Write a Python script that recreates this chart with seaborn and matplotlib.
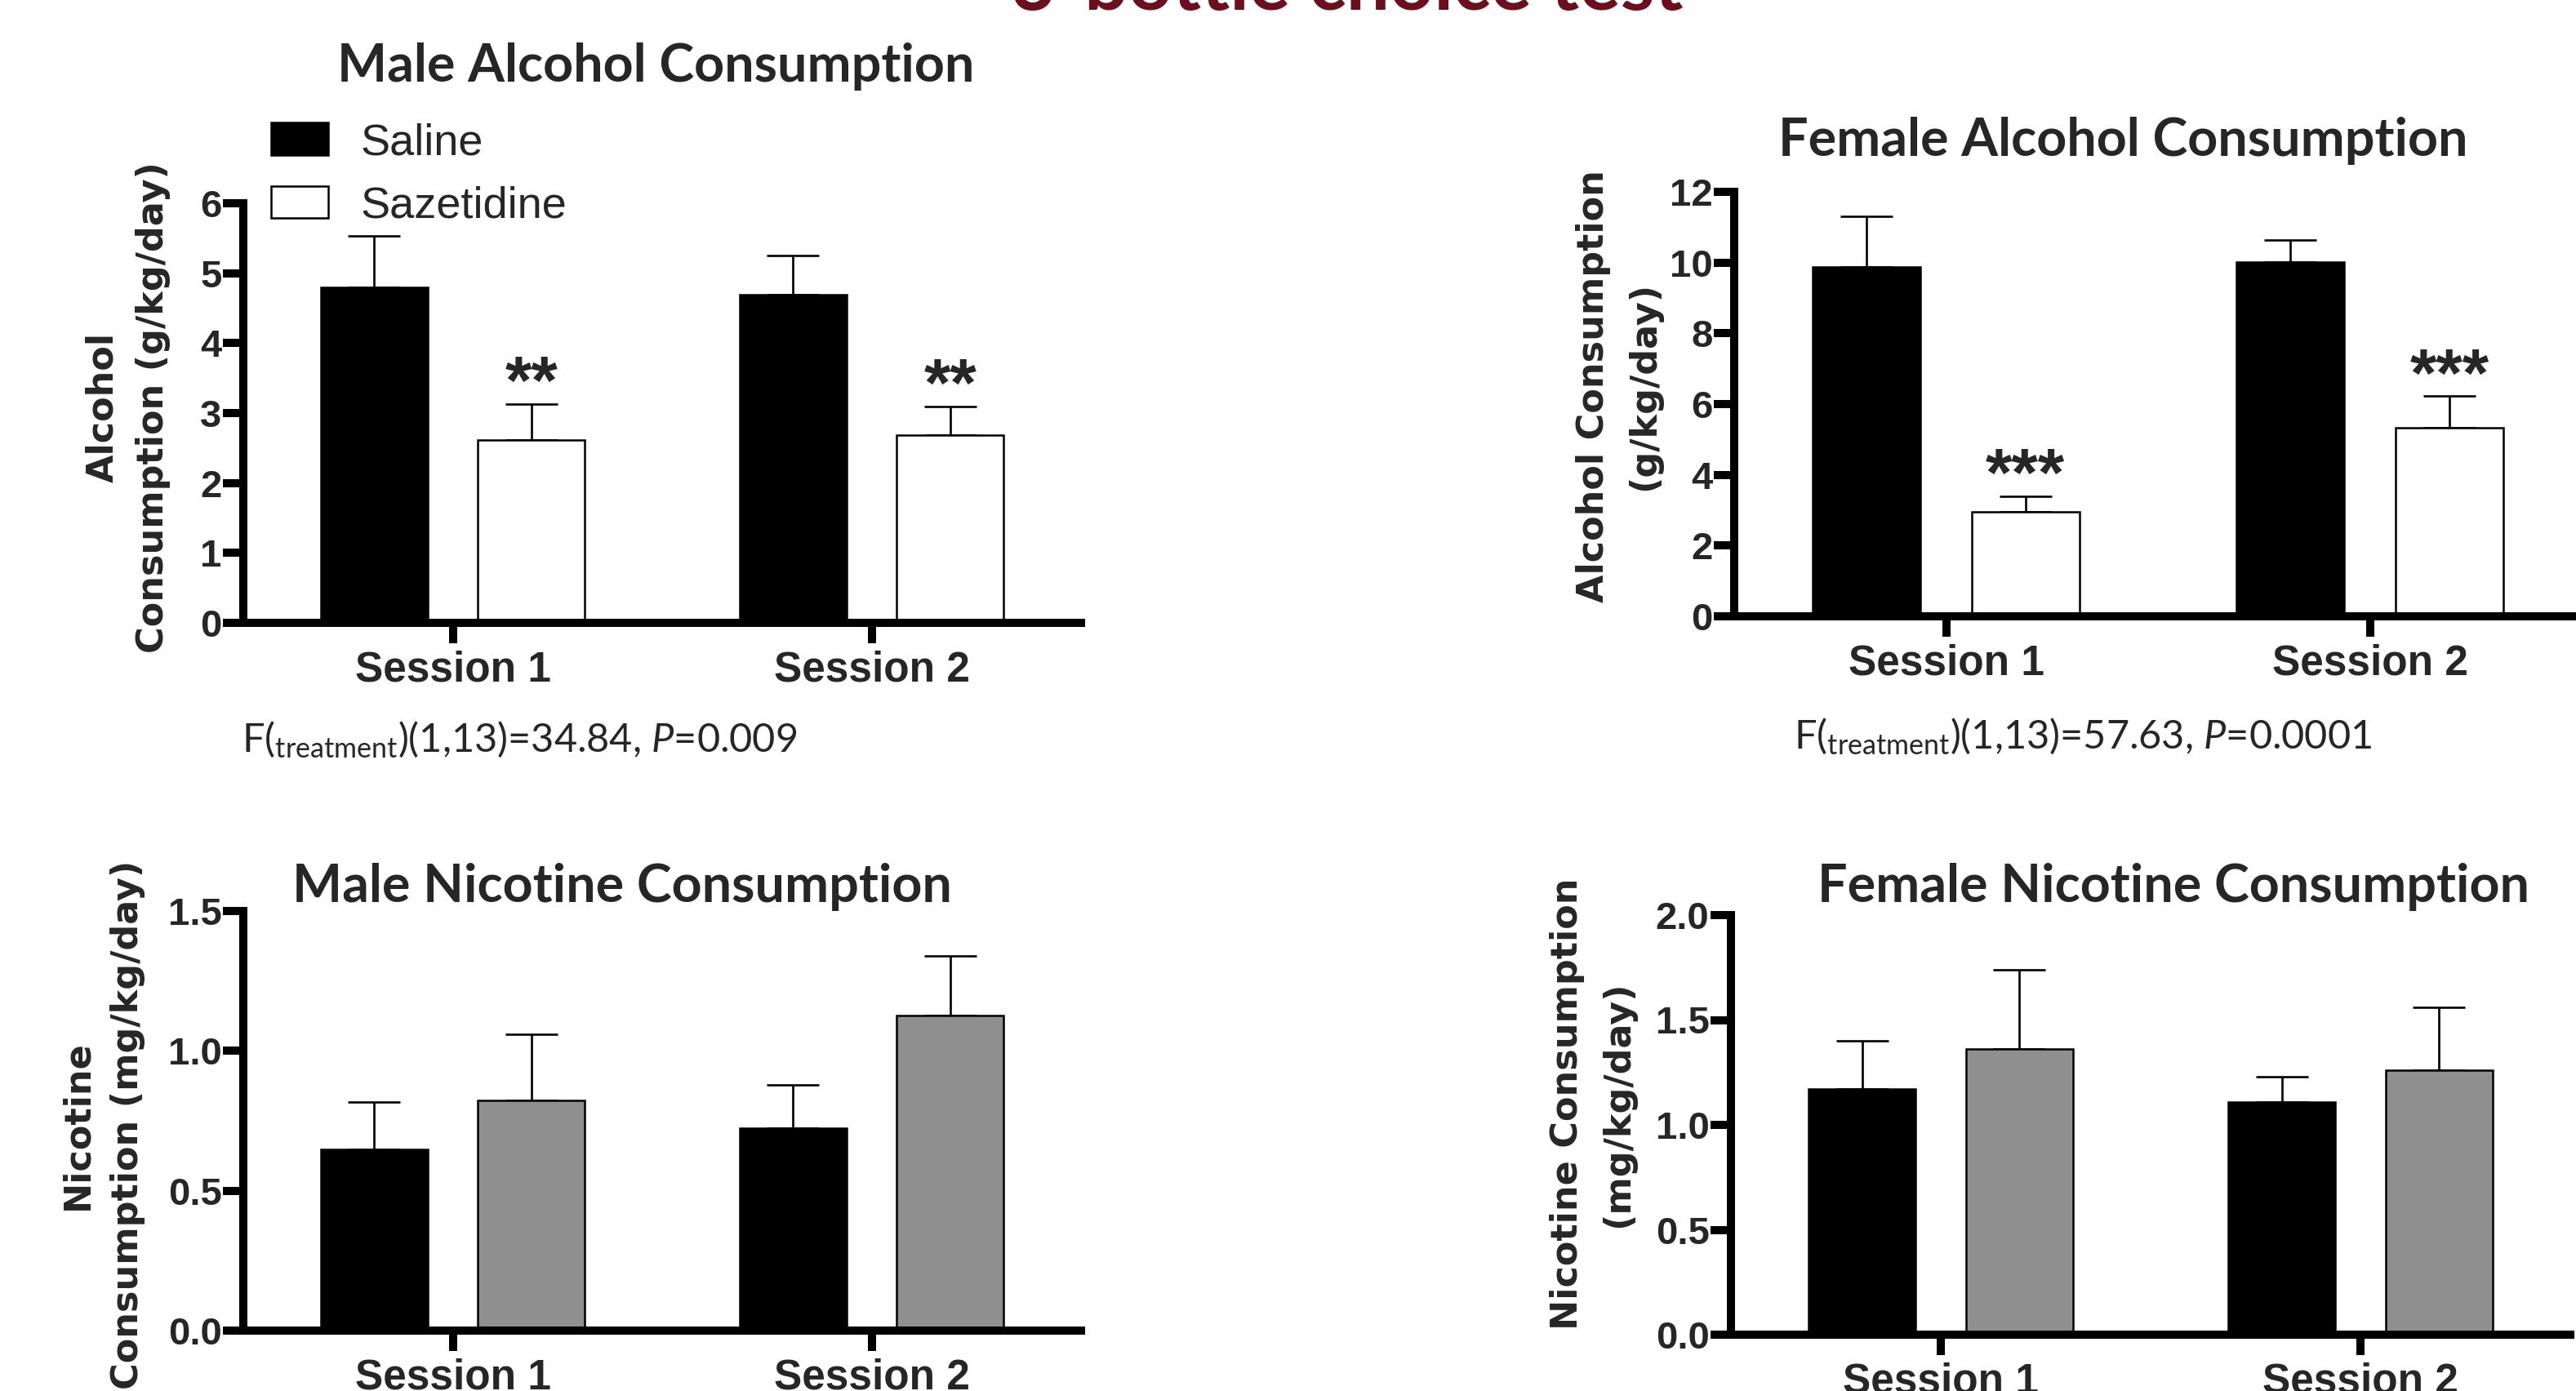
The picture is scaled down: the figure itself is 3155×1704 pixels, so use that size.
import numpy as np
import pandas as pd
import matplotlib
matplotlib.use("Agg")
import matplotlib.pyplot as plt
import seaborn as sns

# ---------------- data ----------------
sessions = ["Session 1", "Session 2"]
treatments = ["Saline", "Sazetidine"]

male_alc_saline = [4.80, 4.69]
male_alc_saline_sem = [0.73, 0.56]
male_alc_saz = [2.61, 2.68]
male_alc_saz_sem = [0.52, 0.41]

female_alc_saline = [9.88, 10.01]
female_alc_saline_sem = [1.43, 0.63]
female_alc_saz = [2.96, 5.32]
female_alc_saz_sem = [0.43, 0.90]

male_nic_saline = [0.647, 0.725]
male_nic_saline_sem = [0.170, 0.154]
male_nic_saz = [0.824, 1.127]
male_nic_saz_sem = [0.234, 0.213]

female_nic_saline = [1.17, 1.11]
female_nic_saline_sem = [0.23, 0.12]
female_nic_saz = [1.36, 1.26]
female_nic_saz_sem = [0.38, 0.30]

male_alc_stars = ["**", "**"]
female_alc_stars = ["***", "***"]

male_alc_ticks = [0, 1, 2, 3, 4, 5, 6]
female_alc_ticks = [0, 2, 4, 6, 8, 10, 12]
male_nic_ticks = [0.0, 0.5, 1.0, 1.5]
female_nic_ticks = [0.0, 0.5, 1.0, 1.5, 2.0]

# ---------------- style ----------------
sns.set_style("ticks")
plt.rcParams["font.family"] = ["Liberation Sans", "DejaVu Sans"]
plt.rcParams["mathtext.fontset"] = "custom"
plt.rcParams["mathtext.rm"] = "Lato"
plt.rcParams["mathtext.it"] = "Lato:italic"

W, H = 3155, 1704
fig = plt.figure(figsize=(W / 100, H / 100), dpi=100)


def frac_box(left, top, right, bottom):
    return [left / W, 1 - bottom / H, (right - left) / W, (bottom - top) / H]


def panel(box, saline, saline_sem, saz, saz_sem, colors, ticks, ylabel,
          label_x, label_y, stars=None, legend=False):
    ax = fig.add_axes(frac_box(*box))
    df = pd.DataFrame({
        "Session": sessions * 2,
        "Treatment": [treatments[0]] * 2 + [treatments[1]] * 2,
        "value": list(saline) + list(saz),
    })
    sem = list(saline_sem) + list(saz_sem)
    sns.barplot(data=df, x="Session", y="value", hue="Treatment",
                hue_order=treatments, order=sessions, palette=colors,
                width=0.75, gap=0.32, errorbar=None, edgecolor="black",
                linewidth=1.8, saturation=1, legend=legend, ax=ax)
    bars = [p for p in ax.patches][:4]
    xs = [p.get_x() + p.get_width() / 2 for p in bars]
    hs = [p.get_height() for p in bars]
    ax.errorbar(xs, hs, yerr=[np.zeros(4), sem], fmt="none", ecolor="black",
                elinewidth=1.9, capsize=23, capthick=1.9, zorder=1)
    for p in bars:
        p.set_zorder(2)
    if stars is not None:
        for i, s in enumerate(stars):
            ax.annotate(s, xy=(xs[2 + i], hs[2 + i] + sem[2 + i]),
                        xytext=(0, 0), textcoords="offset points",
                        ha="center", va="baseline", fontsize=60,
                        fontweight="bold",
                        family=["Liberation Sans", "DejaVu Sans"])
    ax.set_xlim(-0.5, 1.5)
    ax.set_ylim(ticks[0], ticks[-1])
    ax.set_yticks(ticks)
    ax.set_xlabel("")
    ax.set_ylabel(ylabel, fontsize=32, fontweight="bold",
                  family=["DejaVu Sans"], va="center", ha="center",
                  linespacing=1.55)
    ax.yaxis.set_label_coords(label_x, label_y)
    sns.despine(ax=ax)
    for sp in ("left", "bottom"):
        ax.spines[sp].set_linewidth(7.2)
        ax.spines[sp].set_color("black")
        ax.spines[sp].set_capstyle("projecting")
    ax.tick_params(axis="both", direction="out", length=18, width=7.2,
                   color="black")
    ax.tick_params(axis="x", labelsize=37, pad=6)
    ax.tick_params(axis="y", labelsize=34, pad=1)
    for t in ax.get_xticklabels() + ax.get_yticklabels():
        t.set_fontweight("bold")
    ax.set_facecolor("white")
    return ax


white_pal = ["black", "white"]
gray_pal = ["black", "#8f8f8f"]

ax1 = panel((298, 249, 1324, 763), male_alc_saline, male_alc_saline_sem,
            male_alc_saz, male_alc_saz_sem, white_pal, male_alc_ticks,
            "Alcohol\nConsumption (g/kg/day)", -0.138, 0.514,
            stars=male_alc_stars, legend=True)
ax2 = panel((2124, 235, 3162, 755), female_alc_saline, female_alc_saline_sem,
            female_alc_saz, female_alc_saz_sem, white_pal, female_alc_ticks,
            "Alcohol Consumption\n(g/kg/day)", -0.136, 0.542,
            stars=female_alc_stars)
ax3 = panel((298, 1116, 1324, 1630), male_nic_saline, male_nic_saline_sem,
            male_nic_saz, male_nic_saz_sem, gray_pal, male_nic_ticks,
            "Nicotine\nConsumption (mg/kg/day)", -0.168, 0.49)
ax4 = panel((2120, 1121, 3148, 1635), female_nic_saline, female_nic_saline_sem,
            female_nic_saz, female_nic_saz_sem, gray_pal, female_nic_ticks,
            "Nicotine Consumption\n(mg/kg/day)", -0.165, 0.55)

ax3.set_yticklabels([f"{v:.1f}" for v in male_nic_ticks])
ax4.set_yticklabels([f"{v:.1f}" for v in female_nic_ticks])
for ax in (ax3, ax4):
    for t in ax.get_yticklabels():
        t.set_fontweight("bold")

# legend
sns.move_legend(ax1, "upper left", bbox_to_anchor=(332 / W, 1 - 150 / H),
                bbox_transform=fig.transFigure, frameon=False, title=None,
                fontsize=39, handlelength=1.3, handleheight=0.74,
                handletextpad=0.72, labelspacing=0.5, borderpad=0,
                borderaxespad=0)

# titles
title_kw = dict(ha="center", va="baseline", fontsize=46.5, fontweight="bold",
                family=["Lato", "DejaVu Sans"])
fig.text(803 / W, 1 - 100 / H, "Male Alcohol Consumption", **title_kw)
fig.text(2600 / W, 1 - 191 / H, "Female Alcohol Consumption", **title_kw)
fig.text(762 / W, 1 - 1105 / H, "Male Nicotine Consumption", **title_kw)
fig.text(2662 / W, 1 - 1105 / H, "Female Nicotine Consumption", **title_kw)

# cut-off main title
fig.text(1650 / W, 1 - 12 / H, "3-bottle choice test", ha="center",
         va="baseline", fontsize=68, fontweight="bold", color="#6b0f1e",
         family=["Lato", "DejaVu Sans"])

# statistics
stat_kw = dict(ha="left", va="baseline", fontsize=35,
               family=["Lato", "DejaVu Sans"])
fig.text(296 / W, 1 - 921 / H,
         r"F($_{\mathrm{treatment}}$)(1,13)=34.84, $\mathit{P}$=0.009", **stat_kw)
fig.text(2197 / W, 1 - 917 / H,
         r"F($_{\mathrm{treatment}}$)(1,13)=57.63, $\mathit{P}$=0.0001", **stat_kw)

fig.savefig("out.png", dpi=100, facecolor="white")
